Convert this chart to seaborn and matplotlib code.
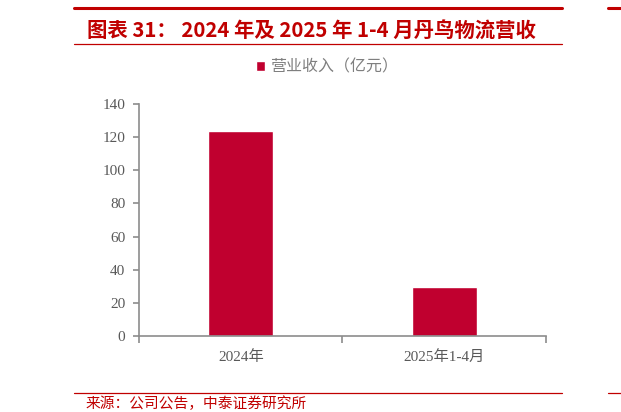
import pandas as pd
import matplotlib.pyplot as plt
import matplotlib.lines as mlines
import seaborn as sns

# 数据
categories = ['2024年', '2025年1-4月']
revenue = [123.5, 29.5]
series_name = '营业收入（亿元）'

df = pd.DataFrame({'period': categories, 'revenue': revenue, 'series': series_name})

sns.set_theme(style='white')
plt.rcParams['font.family'] = ['Liberation Serif', 'Noto Sans CJK SC', 'DejaVu Sans']
plt.rcParams['axes.unicode_minus'] = False

red = '#C00000'
bar_color = '#C0002F'
grey = '#8C8C8C'

fig = plt.figure(figsize=(6.21, 4.12), dpi=100)
ax = fig.add_axes([0.224, 0.184, 0.655, 0.564])

sns.barplot(data=df, x='period', y='revenue', hue='series', palette=[bar_color],
            width=0.32, ax=ax, saturation=1)

ax.set_xlim(-0.5, 1.5)
ax.set_ylim(0, 140)
ax.set_yticks(range(0, 141, 20))
ax.set_xlabel('')
ax.set_ylabel('')

for s in ['top', 'right']:
    ax.spines[s].set_visible(False)
for s in ['left', 'bottom']:
    ax.spines[s].set_color(grey)
    ax.spines[s].set_linewidth(1.2)

ax.tick_params(axis='y', which='major', direction='out', length=4, width=1.2,
               color=grey, labelcolor='#595959', labelsize=11, left=True, pad=6)
ax.tick_params(axis='x', which='major', length=0, labelcolor='#595959', labelsize=11, pad=10)
ax.set_xticks([-0.5, 0.5, 1.5], minor=True)
ax.tick_params(axis='x', which='minor', direction='out', length=5, width=1.2, color=grey, bottom=True)

# 图例
handles, labels = ax.get_legend_handles_labels()
leg = ax.legend(handles, labels, loc='center', bbox_to_anchor=(0.527, 0.837),
                bbox_transform=fig.transFigure, frameon=False, handlelength=0.55,
                handleheight=0.55, handletextpad=0.3,
                prop={'family': ['Noto Sans CJK SC'], 'size': 11.5})
for t in leg.get_texts():
    t.set_color('#7F7F7F')

# 标题与红线
fig.text(0.14, 1 - 30 / 412, '图表 31： 2024 年及 2025 年 1-4 月丹鸟物流营收', color=red,
         fontsize=14.7, fontweight='bold', style='italic', va='center', ha='left',
         family=['Noto Sans CJK SC', 'DejaVu Sans'])
fig.add_artist(mlines.Line2D([74 / 621, 562 / 621], [1 - 8 / 412] * 2, color=red, lw=2.2))
fig.add_artist(mlines.Line2D([608 / 621, 1.0], [1 - 8 / 412] * 2, color=red, lw=2.2))
fig.add_artist(mlines.Line2D([74 / 621, 562 / 621], [1 - 44 / 412] * 2, color=red, lw=0.9))
fig.add_artist(mlines.Line2D([74 / 621, 562 / 621], [1 - 393 / 412] * 2, color=red, lw=0.9))
fig.add_artist(mlines.Line2D([608 / 621, 1.0], [1 - 393 / 412] * 2, color=red, lw=0.9))

fig.text(86 / 621, 1 - 404 / 412, '来源：公司公告，中泰证券研究所', color=red, fontsize=10.6,
         va='center', ha='left', family=['Noto Sans CJK SC', 'DejaVu Sans'])

fig.savefig('out.png', dpi=100)
